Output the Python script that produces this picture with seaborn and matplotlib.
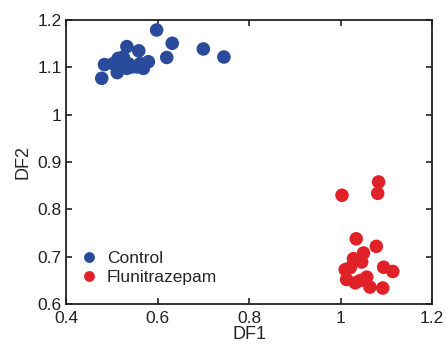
import pandas as pd
import matplotlib
matplotlib.use("Agg")
import matplotlib.pyplot as plt
import seaborn as sns

# --- data ---
control_df1 = [0.478, 0.484, 0.512, 0.514, 0.533, 0.559, 0.598, 0.632, 0.620, 0.700,
               0.745, 0.503, 0.522, 0.533, 0.536, 0.555, 0.569, 0.580, 0.562, 0.525, 0.544]
control_df2 = [1.077, 1.106, 1.089, 1.119, 1.144, 1.135, 1.179, 1.151, 1.121, 1.139,
               1.122, 1.108, 1.112, 1.098, 1.108, 1.101, 1.098, 1.112, 1.108, 1.122, 1.101]

fluni_df1 = [1.003, 1.083, 1.081, 1.034, 1.078, 1.050, 1.028, 1.046, 1.094, 1.114,
             1.010, 1.021, 1.013, 1.032, 1.057, 1.064, 1.092, 1.043]
fluni_df2 = [0.830, 0.858, 0.834, 0.738, 0.722, 0.708, 0.696, 0.689, 0.678, 0.669,
             0.673, 0.677, 0.652, 0.645, 0.657, 0.636, 0.634, 0.650]

groups = ["Control", "Flunitrazepam"]
PALETTE = {"Control": "#2a4b9b", "Flunitrazepam": "#e02228"}

x_ticks = [0.4, 0.6, 0.8, 1.0, 1.2]
x_labels = ["0.4", "0.6", "0.8", "1", "1.2"]
y_ticks = [0.6, 0.7, 0.8, 0.9, 1.0, 1.1, 1.2]
y_labels = ["0.6", "0.7", "0.8", "0.9", "1", "1.1", "1.2"]

df = pd.concat([
    pd.DataFrame({"DF1": control_df1, "DF2": control_df2, "Group": groups[0]}),
    pd.DataFrame({"DF1": fluni_df1, "DF2": fluni_df2, "Group": groups[1]}),
], ignore_index=True)

sns.set_style("ticks")
plt.rcParams["font.family"] = ["Liberation Sans", "DejaVu Sans"]

fig = plt.figure(figsize=(4.46, 3.52), dpi=100)
ax = fig.add_axes([0.148, 0.136, 0.821, 0.807])

sns.scatterplot(data=df, x="DF1", y="DF2", hue="Group", palette=PALETTE,
                s=95, edgecolor="none", linewidth=0, ax=ax)

ax.set_xlim(0.4, 1.2)
ax.set_ylim(0.6, 1.2)
ax.set_xticks(x_ticks)
ax.set_xticklabels(x_labels)
ax.set_yticks(y_ticks)
ax.set_yticklabels(y_labels)
ax.tick_params(direction="in", length=4, width=1.2, top=True, right=True,
               labelsize=12.5, colors="#222222", labelcolor="#222222", pad=3)
ax.tick_params(axis="x", pad=5)
for sp in ax.spines.values():
    sp.set_visible(True)
    sp.set_linewidth(1.3)
    sp.set_color("#222222")

ax.set_xlabel("DF1", fontsize=13, labelpad=0)
ax.set_ylabel("DF2", fontsize=13, labelpad=4)

leg = ax.legend(loc="lower left", bbox_to_anchor=(0.005, 0.03), frameon=False,
                fontsize=12.5, title=None, markerscale=0.8, handlelength=1.2,
                handletextpad=0.45, borderaxespad=0.2, labelspacing=0.25)

fig.savefig("out.png", dpi=100)
